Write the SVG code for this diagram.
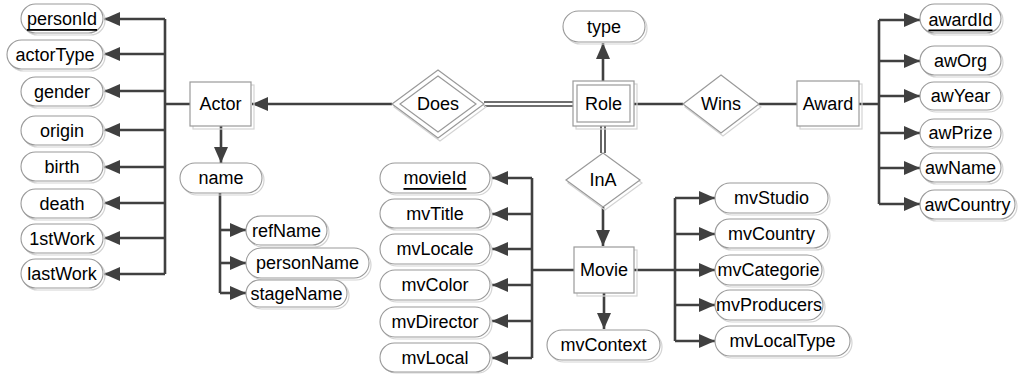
<svg xmlns="http://www.w3.org/2000/svg" width="1021" height="374" viewBox="0 0 1021 374">
<defs>
<marker id="arr" markerUnits="userSpaceOnUse" markerWidth="17" markerHeight="15" refX="16" refY="7" orient="auto">
<path d="M0,0 L16,7 L0,14 z" fill="#404040"/>
</marker>
</defs>
<style>
.sh{fill:none;stroke:#d4d4d4;stroke-width:1.2}
.pl{fill:#fff;stroke:#9a9a9a;stroke-width:1.1}
.bx{fill:#fff;stroke:#9a9a9a;stroke-width:1.2}
.t{font-family:"Liberation Sans",Arial,sans-serif;font-size:18px;fill:#000;text-anchor:middle;dominant-baseline:central}
.k{text-decoration:underline}
.c{fill:none;stroke:#404040;stroke-width:2.6}
.a{fill:none;stroke:#404040;stroke-width:2.6;marker-end:url(#arr)}
.d{fill:none;stroke:#404040;stroke-width:1.6}
</style>
<rect width="1021" height="374" fill="#fff"/>

<g id="connectors">
<path class="c" d="M165,19 V274 M165,104 H190"/>
<path class="a" d="M165,19 H104"/>
<path class="a" d="M165,54 H104"/>
<path class="a" d="M165,91 H104"/>
<path class="a" d="M165,130 H104"/>
<path class="a" d="M165,167 H104"/>
<path class="a" d="M165,203 H104"/>
<path class="a" d="M165,238 H104"/>
<path class="a" d="M165,274 H104"/>
<path class="a" d="M221,126 V163"/>
<path class="c" d="M220,193 V293"/>
<path class="a" d="M220,230 H246"/>
<path class="a" d="M220,263 H246"/>
<path class="a" d="M220,293 H246"/>
<path class="a" d="M392,104 H252"/>
<path class="d" d="M484,102 H573 M484,106 H573"/>
<path class="a" d="M603,81 V43"/>
<path class="c" d="M634,104 H683 M759,104 H797"/>
<path class="c" d="M859,104 H879 M879,20 V204"/>
<path class="a" d="M879,20 H920"/>
<path class="a" d="M879,61 H920"/>
<path class="a" d="M879,96 H920"/>
<path class="a" d="M879,133 H920"/>
<path class="a" d="M879,168 H920"/>
<path class="a" d="M879,204 H920"/>
<path class="d" d="M601,126 V153 M605,126 V153"/>
<path class="a" d="M603,207 V246"/>
<path class="c" d="M574,270 H532 M532,178 V358"/>
<path class="a" d="M532,178 H492"/>
<path class="a" d="M532,214 H492"/>
<path class="a" d="M532,249 H492"/>
<path class="a" d="M532,285 H492"/>
<path class="a" d="M532,321 H492"/>
<path class="a" d="M532,358 H492"/>
<path class="a" d="M604,293 V329"/>
<path class="c" d="M634,270 H675 M675,198 V341"/>
<path class="a" d="M675,198 H715"/>
<path class="a" d="M675,234 H715"/>
<path class="a" d="M675,270 H715"/>
<path class="a" d="M675,305 H715"/>
<path class="a" d="M675,341 H715"/>
</g>

<g id="personId"><rect class="sh" x="23" y="6" width="82" height="29" rx="14.5"/><rect class="pl" x="21" y="4" width="82" height="29" rx="14.5"/><text class="t k" x="62" y="19">personId</text></g>
<g id="actorType"><rect class="sh" x="9" y="42" width="96" height="29" rx="14.5"/><rect class="pl" x="7" y="40" width="96" height="29" rx="14.5"/><text class="t" x="55" y="54.5">actorType</text></g>
<g id="gender"><rect class="sh" x="23" y="79" width="82" height="29" rx="14.5"/><rect class="pl" x="21" y="77" width="82" height="29" rx="14.5"/><text class="t" x="62" y="91.5">gender</text></g>
<g id="origin"><rect class="sh" x="23" y="118" width="82" height="29" rx="14.5"/><rect class="pl" x="21" y="116" width="82" height="29" rx="14.5"/><text class="t" x="62" y="130.5">origin</text></g>
<g id="birth"><rect class="sh" x="23" y="154" width="82" height="29" rx="14.5"/><rect class="pl" x="21" y="152" width="82" height="29" rx="14.5"/><text class="t" x="62" y="166.5">birth</text></g>
<g id="death"><rect class="sh" x="23" y="191" width="82" height="29" rx="14.5"/><rect class="pl" x="21" y="189" width="82" height="29" rx="14.5"/><text class="t" x="62" y="203.5">death</text></g>
<g id="firstWork"><rect class="sh" x="23" y="226" width="82" height="29" rx="14.5"/><rect class="pl" x="21" y="224" width="82" height="29" rx="14.5"/><text class="t" x="62" y="238.5">1stWork</text></g>
<g id="lastWork"><rect class="sh" x="23" y="261" width="82" height="29" rx="14.5"/><rect class="pl" x="21" y="259" width="82" height="29" rx="14.5"/><text class="t" x="62" y="273.5">lastWork</text></g>

<g id="Actor"><rect class="sh" x="193" y="85" width="61" height="44"/><rect class="bx" x="190" y="82" width="61" height="44"/><text class="t" x="220.5" y="104">Actor</text></g>
<g id="name"><rect class="sh" x="182" y="165" width="82" height="30" rx="15"/><rect class="pl" x="180" y="163" width="82" height="30" rx="15"/><text class="t" x="221" y="178">name</text></g>
<g id="refName"><rect class="sh" x="248" y="218" width="81" height="29" rx="14.5"/><rect class="pl" x="246" y="216" width="81" height="29" rx="14.5"/><text class="t" x="286.5" y="230.5">refName</text></g>
<g id="personName"><rect class="sh" x="248" y="250" width="123" height="30" rx="15"/><rect class="pl" x="246" y="248" width="123" height="30" rx="15"/><text class="t" x="307.5" y="263">personName</text></g>
<g id="stageName"><rect class="sh" x="248" y="282" width="101" height="27" rx="13.5"/><rect class="pl" x="246" y="280" width="101" height="27" rx="13.5"/><text class="t" x="296.5" y="293.5">stageName</text></g>

<g id="Does">
<polygon class="sh" points="440,73 486,107 440,141 394,107"/>
<polygon class="bx" points="438,70 484,104 438,138 392,104"/>
<polygon class="bx" points="438,76 476,104 438,132 400,104"/>
<text class="t" x="438" y="104">Does</text>
</g>

<g id="Role">
<rect class="sh" x="576" y="84" width="61" height="45"/>
<rect class="bx" x="573" y="81" width="61" height="45"/>
<rect class="bx" x="577" y="85" width="53" height="37"/>
<text class="t" x="603.5" y="103.5">Role</text>
</g>
<g id="type"><rect class="sh" x="565" y="13" width="82" height="31" rx="15.5"/><rect class="pl" x="563" y="11" width="82" height="31" rx="15.5"/><text class="t" x="604" y="26.5">type</text></g>

<g id="Wins">
<polygon class="sh" points="723,78 761,107 723,136 685,107"/>
<polygon class="bx" points="721,75 759,104 721,133 683,104"/>
<text class="t" x="721" y="104">Wins</text>
</g>

<g id="Award"><rect class="sh" x="800" y="84" width="62" height="45"/><rect class="bx" x="797" y="81" width="62" height="45"/><text class="t" x="828" y="103.5">Award</text></g>
<g id="awardId"><rect class="sh" x="922" y="6" width="81" height="29" rx="14.5"/><rect class="pl" x="920" y="4" width="81" height="29" rx="14.5"/><text class="t k" x="960.5" y="19.5">awardId</text></g>
<g id="awOrg"><rect class="sh" x="922" y="48" width="81" height="29" rx="14.5"/><rect class="pl" x="920" y="46" width="81" height="29" rx="14.5"/><text class="t" x="960.5" y="60.5">awOrg</text></g>
<g id="awYear"><rect class="sh" x="922" y="84" width="81" height="28" rx="14"/><rect class="pl" x="920" y="82" width="81" height="28" rx="14"/><text class="t" x="960.5" y="96">awYear</text></g>
<g id="awPrize"><rect class="sh" x="922" y="121" width="81" height="28" rx="14"/><rect class="pl" x="920" y="119" width="81" height="28" rx="14"/><text class="t" x="960.5" y="133">awPrize</text></g>
<g id="awName"><rect class="sh" x="922" y="155" width="81" height="29" rx="14.5"/><rect class="pl" x="920" y="153" width="81" height="29" rx="14.5"/><text class="t" x="960.5" y="167.5">awName</text></g>
<g id="awCountry"><rect class="sh" x="922" y="192" width="95" height="29" rx="14.5"/><rect class="pl" x="920" y="190" width="95" height="29" rx="14.5"/><text class="t" x="967.5" y="204.5">awCountry</text></g>

<g id="InA">
<polygon class="sh" points="605,156 642,183 605,210 568,183"/>
<polygon class="bx" points="603,153 640,180 603,207 566,180"/>
<text class="t" x="603" y="180">InA</text>
</g>

<g id="Movie"><rect class="sh" x="577" y="250" width="60" height="46"/><rect class="bx" x="574" y="247" width="60" height="46"/><text class="t" x="604" y="270">Movie</text></g>
<g id="mvContext"><rect class="sh" x="549" y="332" width="113" height="30" rx="15"/><rect class="pl" x="547" y="330" width="113" height="30" rx="15"/><text class="t" x="603.5" y="345">mvContext</text></g>

<g id="movieId"><rect class="sh" x="382" y="165" width="110" height="30" rx="15"/><rect class="pl" x="380" y="163" width="110" height="30" rx="15"/><text class="t k" x="435" y="178">movieId</text></g>
<g id="mvTitle"><rect class="sh" x="382" y="201" width="110" height="29" rx="14.5"/><rect class="pl" x="380" y="199" width="110" height="29" rx="14.5"/><text class="t" x="435" y="213.5">mvTitle</text></g>
<g id="mvLocale"><rect class="sh" x="382" y="236" width="110" height="30" rx="15"/><rect class="pl" x="380" y="234" width="110" height="30" rx="15"/><text class="t" x="435" y="249">mvLocale</text></g>
<g id="mvColor"><rect class="sh" x="382" y="272" width="110" height="30" rx="15"/><rect class="pl" x="380" y="270" width="110" height="30" rx="15"/><text class="t" x="435" y="285">mvColor</text></g>
<g id="mvDirector"><rect class="sh" x="382" y="309" width="110" height="30" rx="15"/><rect class="pl" x="380" y="307" width="110" height="30" rx="15"/><text class="t" x="435" y="322">mvDirector</text></g>
<g id="mvLocal"><rect class="sh" x="382" y="345" width="110" height="28" rx="14"/><rect class="pl" x="380" y="343" width="110" height="29" rx="14.5"/><text class="t" x="435" y="357.5">mvLocal</text></g>

<g id="mvStudio"><rect class="sh" x="717" y="185" width="113" height="30" rx="15"/><rect class="pl" x="715" y="183" width="113" height="30" rx="15"/><text class="t" x="771.5" y="198">mvStudio</text></g>
<g id="mvCountry"><rect class="sh" x="717" y="221" width="113" height="29" rx="14.5"/><rect class="pl" x="715" y="219" width="113" height="29" rx="14.5"/><text class="t" x="771.5" y="233.5">mvCountry</text></g>
<g id="mvCategorie"><rect class="sh" x="717" y="257" width="107" height="30" rx="15"/><rect class="pl" x="715" y="255" width="107" height="30" rx="15"/><text class="t" x="768.5" y="270">mvCategorie</text></g>
<g id="mvProducers"><rect class="sh" x="717" y="292" width="108" height="30" rx="15"/><rect class="pl" x="715" y="290" width="108" height="30" rx="15"/><text class="t" x="769" y="305">mvProducers</text></g>
<g id="mvLocalType"><rect class="sh" x="717" y="328" width="135" height="30" rx="15"/><rect class="pl" x="715" y="326" width="135" height="30" rx="15"/><text class="t" x="782.5" y="341">mvLocalType</text></g>
</svg>
